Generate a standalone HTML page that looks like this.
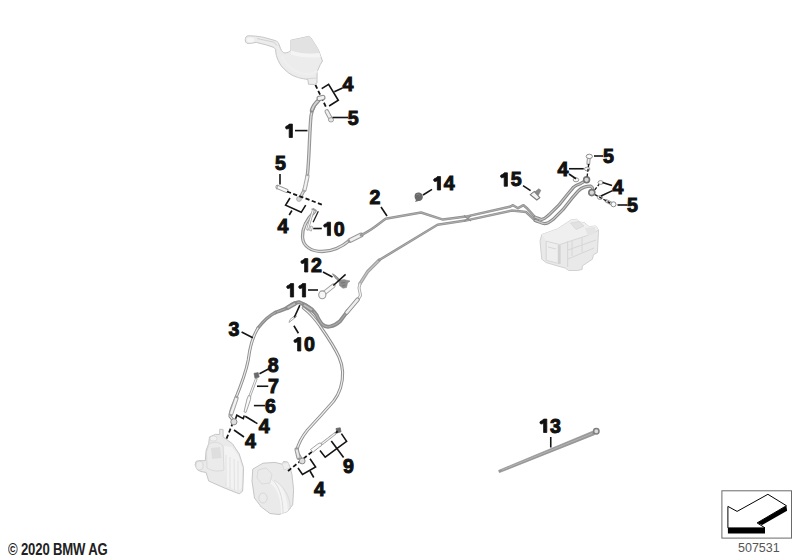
<!DOCTYPE html>
<html><head><meta charset="utf-8"><style>
html,body{margin:0;padding:0;background:#fff;width:800px;height:560px;overflow:hidden}
svg{position:absolute;left:0;top:0}
.lab text{font-family:"Liberation Sans",sans-serif;font-weight:bold;font-size:19.6px;fill:#111;stroke:#111;stroke-width:1.0px}
.lab path{fill:#111;stroke:#111;stroke-width:0.8px}
.ld polyline{fill:none;stroke:#151515;stroke-width:1.6;stroke-linejoin:miter}
.tds polyline{fill:none;stroke:#1a1a1a;stroke-width:1.35;stroke-dasharray:3 1.8}
.ds polyline{fill:none;stroke:#151515;stroke-width:1.8;stroke-dasharray:4.2 2.4}
.copy{position:absolute;left:7.6px;top:541.1px;font-family:"Liberation Sans",sans-serif;font-size:16px;font-weight:bold;color:#222;transform-origin:0 0;transform:scaleX(0.82);white-space:nowrap;letter-spacing:-0.2px}
.num{position:absolute;left:738px;top:541px;font-family:"Liberation Sans",sans-serif;font-size:12.5px;color:#555}
</style></head><body>
<svg width="800" height="560" viewBox="0 0 800 560">
<path d="M248.1,35.8 C255,35.8 262,36.9 263.75,37.4 L275,40.5 C277,41.5 278.1,42 278.6,43.5 L280.6,48.6 C281.5,51 283,53 285,53 C287.5,53 289.5,51.5 290.9,50.4 L290.9,40.2 L308.6,36.4 L310.7,37.5 L318.2,49.3 L322.5,61 L320.4,64.3 L317.1,71.8 L317,83 L314.5,84.5 L308.5,84.3 L307.8,79.5 C302,78.5 299,78 296.8,77.1 C292,75.5 289,73.5 286,70.7 C283,68 281,66 279.6,63.2 C277.5,59.5 276.5,56.5 275.9,53 L275.6,49.25 L273.75,47.4 L266.25,44.9 L256.25,42.4 C253,43 250,43.6 248.1,43.5 C245.8,43.3 245.3,41.5 245.3,39.7 C245.3,37.5 246.3,35.9 248.1,35.8 Z" fill="#ececec" stroke="#c6c6c6" stroke-width="1"/>
<path d="M290.9,40.2 L308.6,36.4 L310.7,37.5 L318.2,49.3 L319.5,53 C310,54.5 300,53.5 290.9,50.4 Z" fill="#e2e2e2"/>
<path d="M290.9,50.4 C300,53.5 310,54.5 319.5,53 L320.8,57 C310,58.5 299,57 290.9,54.5 Z" fill="#f4f4f4"/>
<path d="M282,56 C285,64 292,70 300,73 C307,75 313,74 317.5,71" fill="none" stroke="#efefef" stroke-width="2.2"/>
<path d="M306.4,78.75 L316.8,78" fill="none" stroke="#d0d0d0" stroke-width="0.8"/>
<ellipse cx="250.6" cy="39.9" rx="3.6" ry="2.4" fill="#f6f6f6"/>
<path d="M257,38.5 L274,42.2 L277,45.5" fill="none" stroke="#d2d2d2" stroke-width="1"/><path d="M541.75,234.5 L557.5,228.9 L571,219.9 L576.6,219.3 L580,222.1 L584.5,222.7 L589,226.6 L595.7,226 L598.6,230 L597.4,252.5 L593.5,254.7 L592.4,259.2 L582.2,266 L582.2,269.4 L577.7,270.5 L568.7,270.5 L565.4,268.2 L554,264.9 L546.2,262.6 L541.75,259.2 L540,241.2 Z" fill="#e9e9e9" stroke="#cdcdcd" stroke-width="0.9"/>
<path d="M541.75,234.5 L557.5,228.9 L571,219.9 L576.6,219.3 L580,222.1 L584.5,222.7 L589,226.6 L595.7,226 L598.6,230 L586,236 L572,240.5 L559.7,244.6 L546.2,241.2 Z" fill="#efefef"/>
<path d="M546.2,241.2 L559.7,244.6 L559.7,263.7 L546.2,260.4 Z" fill="#eeeeee" stroke="#d0d0d0" stroke-width="0.8"/>
<path d="M557.8,245 L560.6,245.4 L560.6,264 L557.8,263.4 Z" fill="#d2d2d2"/>
<path d="M567.6,241 L567.6,267 M559.7,244.6 L572,240.5 L586,236 L598,230.5 M572,241 L572,256 M582,238 L582,252 M568,259 L594,248 M568,250 L596,240 M548,247 L556,249" fill="none" stroke="#d4d4d4" stroke-width="0.9"/>
<path d="M570.5,223 L579,221.5 L584,226 L576,229.5 Z" fill="#e2e2e2" stroke="#d2d2d2" stroke-width="0.6"/>
<path d="M585,228 L595,227 L596,233 L588,236 Z" fill="#e4e4e4"/><path d="M209.5,436.9 L215.5,434.3 L219.7,434.5 L219.7,429.2 L223.1,429.5 L223.1,436.9 L232.4,443.7 L239.2,453.9 L243.5,467.4 L243.2,480 L242.6,491.2 L239.2,493.8 L224,487.8 L208.7,481 L206.1,472.5 L201,471.5 L197.6,470 L195.1,464.9 L196,461.5 L198.5,460.7 L205.3,460.7 L206.1,450.5 L208.7,443.7 Z" fill="#eaeaea" stroke="#c6c6c6" stroke-width="1"/>
<path d="M224,446 L232,447 L238.5,456 L242,468 L241.5,488 L238.5,491 L226,486 L224.5,470 Z" fill="#f3f3f3"/>
<path d="M226,455 L226,486 M230,457 L230,488 M234,459 L234.5,490 M238,461 L238,491" stroke="#dadada" stroke-width="0.7" fill="none"/>
<path d="M209,444 C214,441 220,442 223,446 L224,470 C218,472 212,471 207,468 L206.5,452 Z" fill="#ebebeb" stroke="#d3d3d3" stroke-width="0.7"/>
<path d="M211,448 L220,447 L221.5,458 L212,459 Z" fill="#dedede"/>
<ellipse cx="213.5" cy="438.5" rx="3.6" ry="2.6" fill="#f1f1f1" stroke="#d4d4d4" stroke-width="0.7"/>
<ellipse cx="199.5" cy="465.6" rx="3.6" ry="4.4" fill="#ededed" stroke="#d0d0d0" stroke-width="0.8"/>
<path d="M252.8,469.1 L263,463.2 L274.9,462.4 L282.5,464.2 L283.4,461.5 L287.5,461.9 L289.6,466 L291.9,474.2 L293.6,489.5 L292.7,504.8 L287.5,511.5 L279,514.5 L270,513.5 L261.3,507 L254.5,498 L252,481 Z" fill="#eaeaea" stroke="#c6c6c6" stroke-width="1"/>
<path d="M270,478 C280,481 287,492 288,511 L281,514 C281,497 277,487 268,482 Z" fill="#f4f4f4"/>
<path d="M266,476 C277,480 283,494 283,513 M274,480 C284,486 290,496 290.5,509" fill="none" stroke="#d6d6d6" stroke-width="0.8"/>
<path d="M258,470 L266,468 L272,474 L270,483 L262,484 L257,478 Z" fill="#eaeaea" stroke="#d4d4d4" stroke-width="0.7"/>
<ellipse cx="263" cy="498" rx="4.2" ry="5" fill="#ebebeb" stroke="#d2d2d2" stroke-width="0.8"/>
<path d="M282,463 L288,462.5 L290,468 L284,470 Z" fill="#eeeeee" stroke="#d0d0d0" stroke-width="0.6"/>
<path d="M320.6,98 C315.5,102.5 312,108 311,116 C310,126 309.6,140 309,152 C308.4,165 307.6,175 306.5,182 C305,189 302,195 299,199" fill="none" stroke="#949494" stroke-width="3.4" stroke-linejoin="round" stroke-linecap="round"/><path d="M320.6,98 C315.5,102.5 312,108 311,116 C310,126 309.6,140 309,152 C308.4,165 307.6,175 306.5,182 C305,189 302,195 299,199" fill="none" stroke="#dcdcdc" stroke-width="1.3" stroke-linejoin="round" stroke-linecap="round"/><path d="M307.5,176 L304.5,190" stroke="#a8a8a8" stroke-width="4.2" stroke-linecap="round"/><path d="M307.5,176 L304.5,190" stroke="#f2f2f2" stroke-width="2.2"/><path d="M318.5,100.5 C315.5,103 313,106.5 311.8,110.5" fill="none" stroke="#8c8c8c" stroke-width="4.2" stroke-linecap="round"/><path d="M318.5,100.5 C315.5,103 313,106.5 311.8,110.5" fill="none" stroke="#d4d4d4" stroke-width="1.8"/><path d="M315,211 C307,219 302,228 302.5,237 C303,247 312,251.5 322,251.5 C334,251.5 343,246 350,240" fill="none" stroke="#8e8e8e" stroke-width="3.3" stroke-linejoin="round" stroke-linecap="round"/><path d="M315,211 C307,219 302,228 302.5,237 C303,247 312,251.5 322,251.5 C334,251.5 343,246 350,240" fill="none" stroke="#dedede" stroke-width="1.3" stroke-linejoin="round" stroke-linecap="round"/><path d="M350,240.5 L361,235" stroke="#9a9a9a" stroke-width="5" stroke-linecap="round"/><path d="M350,240.5 L361,235" stroke="#f0f0f0" stroke-width="3"/><path d="M361,235.3 C367,232 371,230 376,226 L385.6,218.75 L421,212.5 L443,219.6 L465.8,216.6 L509.7,206.8 L513,205.2 L518,208.2 L523.5,205.2 L527.6,208.8 L535,217.2" fill="none" stroke="#919191" stroke-width="2.5" stroke-linejoin="round" stroke-linecap="round"/><path d="M361,235.3 C367,232 371,230 376,226 L385.6,218.75 L421,212.5 L443,219.6 L465.8,216.6 L509.7,206.8 L513,205.2 L518,208.2 L523.5,205.2 L527.6,208.8 L535,217.2" fill="none" stroke="#b4b4b4" stroke-width="0.8" stroke-linejoin="round" stroke-linecap="round"/><path d="M379.3,260 L367.5,271.8 L360,283.6" fill="none" stroke="#a2a2a2" stroke-width="3.4" stroke-linejoin="round" stroke-linecap="round"/><path d="M379.3,260 L367.5,271.8 L360,283.6" fill="none" stroke="#c4c4c4" stroke-width="1.2" stroke-linejoin="round" stroke-linecap="round"/><path d="M360,283.6 L359,287.9 L360.5,295.4 L357.9,299.7" fill="none" stroke="#a8a8a8" stroke-width="3.0" stroke-linejoin="round" stroke-linecap="round"/><path d="M360,283.6 L359,287.9 L360.5,295.4 L357.9,299.7" fill="none" stroke="#f4f4f4" stroke-width="1.3" stroke-linejoin="round" stroke-linecap="round"/><path d="M379.3,260 L437.5,224.8 L465.5,220.6 L511.5,210.6 L519.4,211.3 L526,212 L535,220.4" fill="none" stroke="#919191" stroke-width="2.5" stroke-linejoin="round" stroke-linecap="round"/><path d="M379.3,260 L437.5,224.8 L465.5,220.6 L511.5,210.6 L519.4,211.3 L526,212 L535,220.4" fill="none" stroke="#b4b4b4" stroke-width="0.8" stroke-linejoin="round" stroke-linecap="round"/><path d="M535,217.2 C538,218 540,219.5 542,219.3 C545,219 547,216.5 549,214.8 L558.6,205.4 L567.2,194.7 L573.6,187.1 C576,185 578,184.5 580,183.9 L586.4,180.2" fill="none" stroke="#858585" stroke-width="3.2" stroke-linejoin="round" stroke-linecap="round"/><path d="M535,217.2 C538,218 540,219.5 542,219.3 C545,219 547,216.5 549,214.8 L558.6,205.4 L567.2,194.7 L573.6,187.1 C576,185 578,184.5 580,183.9 L586.4,180.2" fill="none" stroke="#c8c8c8" stroke-width="1.2" stroke-linejoin="round" stroke-linecap="round"/><path d="M535,220.4 C539,221.5 542,223.6 544.6,223.6 C548,223.6 551,221 553.2,219.3 L562.9,209.7 L571.4,198.9 L577.9,191.4 C580,189 582,187.8 584.3,187.1 C587,186.3 589,185.8 590.7,186.1 C592.5,187 593.2,189 592.3,192.5" fill="none" stroke="#858585" stroke-width="3.2" stroke-linejoin="round" stroke-linecap="round"/><path d="M535,220.4 C539,221.5 542,223.6 544.6,223.6 C548,223.6 551,221 553.2,219.3 L562.9,209.7 L571.4,198.9 L577.9,191.4 C580,189 582,187.8 584.3,187.1 C587,186.3 589,185.8 590.7,186.1 C592.5,187 593.2,189 592.3,192.5" fill="none" stroke="#c8c8c8" stroke-width="1.2" stroke-linejoin="round" stroke-linecap="round"/><path d="M348.2,310.4 L340,321.25 C337,324 334,325.75 330,326.5 C327,327.25 324,326 322,324.25 C319,320 317,316 316.75,315.25 C314,311 311,308.5 304.75,304.75 L298.75,302.1 C295,303 292.75,304 292.75,304 L287.5,307.75 C283,310 279,311 275.4,312.5" fill="none" stroke="#8a8a8a" stroke-width="3.8" stroke-linejoin="round" stroke-linecap="round"/><path d="M348.2,310.4 L340,321.25 C337,324 334,325.75 330,326.5 C327,327.25 324,326 322,324.25 C319,320 317,316 316.75,315.25 C314,311 311,308.5 304.75,304.75 L298.75,302.1 C295,303 292.75,304 292.75,304 L287.5,307.75 C283,310 279,311 275.4,312.5" fill="none" stroke="#a8a8a8" stroke-width="1.2" stroke-linejoin="round" stroke-linecap="round"/><path d="M275.4,312.5 C268,316 263.6,321 258,328" fill="none" stroke="#8e8e8e" stroke-width="3.4" stroke-linejoin="round" stroke-linecap="round"/><path d="M275.4,312.5 C268,316 263.6,321 258,328" fill="none" stroke="#b0b0b0" stroke-width="1" stroke-linejoin="round" stroke-linecap="round"/><path d="M258,328 C253,336 250,345 248.25,360 C246,372 240,388 234.5,401.25 C232,407 230,412 230,416.25 L233.9,421.25" fill="none" stroke="#8e8e8e" stroke-width="3.1" stroke-linejoin="round" stroke-linecap="round"/><path d="M258,328 C253,336 250,345 248.25,360 C246,372 240,388 234.5,401.25 C232,407 230,412 230,416.25 L233.9,421.25" fill="none" stroke="#eeeeee" stroke-width="1.2" stroke-linejoin="round" stroke-linecap="round"/><path d="M236.5,398 L231,414" stroke="#a0a0a0" stroke-width="4.4" stroke-linecap="round"/><path d="M236.5,398 L231,414" stroke="#f2f2f2" stroke-width="2.4"/><path d="M303.25,307.75 C310,313 316,320 320,326 C327,336 334,346 339,357 C343,366 343.5,378 340.5,388 C338.5,394 336.5,397.5 333.75,401 C325,411 315,422 307.5,430 C301,438 298,445 296.5,451 L302,460.6" fill="none" stroke="#8e8e8e" stroke-width="3.1" stroke-linejoin="round" stroke-linecap="round"/><path d="M303.25,307.75 C310,313 316,320 320,326 C327,336 334,346 339,357 C343,366 343.5,378 340.5,388 C338.5,394 336.5,397.5 333.75,401 C325,411 315,422 307.5,430 C301,438 298,445 296.5,451 L302,460.6" fill="none" stroke="#eeeeee" stroke-width="1.2" stroke-linejoin="round" stroke-linecap="round"/><path d="M296.6,449.5 L298.6,457.8" stroke="#9a9a9a" stroke-width="4.4" stroke-linecap="round"/><path d="M296.6,449.5 L298.6,457.8" stroke="#e8e8e8" stroke-width="2.2"/><path d="M287.5,307.75 L295,303.5" stroke="#8c8c8c" stroke-width="4.6" stroke-linecap="round"/><path d="M287.5,307.75 L295,303.5" stroke="#bcbcbc" stroke-width="2"/><path d="M304,305 L312,310" stroke="#8c8c8c" stroke-width="4.6" stroke-linecap="round"/><path d="M304,305 L312,310" stroke="#bcbcbc" stroke-width="2"/><path d="M357.6,299.6 L346.6,312.6" stroke="#8e8e8e" stroke-width="4.4" stroke-linecap="round"/><path d="M357.6,299.6 L346.6,312.6" stroke="#eeeeee" stroke-width="2.4" stroke-linecap="round"/>

<path d="M464,215.5 L471,221 M464,221.5 L471,215.8" stroke="#8e8e8e" stroke-width="1.2"/>
<path d="M326.8,111.5 L330.5,118.5" stroke="#9a9a9a" stroke-width="4.6" stroke-linecap="round"/>
<path d="M326.8,111.5 L330.5,118.5" stroke="#f0f0f0" stroke-width="2.6" stroke-linecap="round"/>
<ellipse cx="331" cy="119.8" rx="2.6" ry="2.2" fill="#e4e4e4" stroke="#9a9a9a" stroke-width="0.9"/>
<path d="M277.5,187 L286.5,190.8" stroke="#9c9c9c" stroke-width="4.2" stroke-linecap="round"/>
<path d="M277.5,187 L286.5,190.8" stroke="#fafafa" stroke-width="2.4" stroke-linecap="round"/>
<path d="M277.6,184.8 L276.8,189.4" stroke="#9c9c9c" stroke-width="1"/>
<circle cx="299" cy="199" r="2.4" fill="#d6d6d6" stroke="#a0a0a0" stroke-width="0.8"/>
<path d="M313.4,209.3 L307.6,229.3" stroke="#a0a0a0" stroke-width="2.6" stroke-linecap="round"/><path d="M313.4,209.3 L307.6,229.3" stroke="#fafafa" stroke-width="1.1"/>
<path d="M311.4,209 L316.6,210.6" stroke="#9a9a9a" stroke-width="1.2"/>
<path d="M318.3,211.3 L313.1,222.3" stroke="#222" stroke-width="1.3"/>
<path d="M310.6,226 L312.6,226.6 L311.4,231 L309.6,230.5 Z" fill="#fafafa" stroke="#a0a0a0" stroke-width="0.8"/>
<path d="M414.6,196.2 C414.5,193.2 417,192.2 419.3,192.6 C422,193 423.2,195.3 422.8,197.5 C422.5,200 420.5,201.3 418.5,201 L415,202 L416,200 C415,199 414.7,197.8 414.6,196.2 Z" fill="#6a6a6a"/><path d="M416,195 L418,194 L420,195.5" fill="none" stroke="#8a8a8a" stroke-width="0.8"/>
<path d="M530.3,194.7 L534.3,191.4 L539.8,197.6 L536.8,200 Z" fill="#f4f4f4" stroke="#7a7a7a" stroke-width="1.1"/><path d="M534.8,192 L538.8,188.8 L540.8,190.3 L538.3,195.3 Z" fill="#8a8a8a" stroke="#777" stroke-width="0.6"/>
<path d="M588.8,158.5 L588.3,163.5" stroke="#9a9a9a" stroke-width="3.8" stroke-linecap="round"/><path d="M588.8,158.5 L588.3,163.5" stroke="#eee" stroke-width="1.8"/>
<ellipse cx="589.3" cy="156.4" rx="3.1" ry="2.2" fill="#fafafa" stroke="#8e8e8e" stroke-width="1"/>
<ellipse cx="587.2" cy="169" rx="2.7" ry="1.9" fill="#fafafa" stroke="#8e8e8e" stroke-width="0.9"/>
<ellipse cx="576" cy="179.8" rx="2.8" ry="2" fill="#fafafa" stroke="#8e8e8e" stroke-width="0.9"/>
<circle cx="586.6" cy="179.8" r="2.9" fill="#d8d8d8" stroke="#767676" stroke-width="1.6"/>
<ellipse cx="600.6" cy="182.5" rx="2.6" ry="1.9" fill="#fafafa" stroke="#8e8e8e" stroke-width="0.9"/>
<ellipse cx="600" cy="197.5" rx="2.6" ry="1.9" fill="#fafafa" stroke="#8e8e8e" stroke-width="0.9"/>
<circle cx="591.8" cy="192.6" r="3" fill="#d8d8d8" stroke="#767676" stroke-width="1.6"/>
<path d="M606.5,201 L612,203.8" stroke="#999" stroke-width="3.6" stroke-linecap="round"/>
<path d="M606.5,201 L612,203.8" stroke="#eee" stroke-width="1.6"/>
<circle cx="613.5" cy="204.3" r="2.5" fill="#fafafa" stroke="#8e8e8e" stroke-width="1"/>
<path d="M332.6,273.8 C335,275 338,277.5 340.5,280.5 L339,281.5 C336,279 334,276.5 332.6,273.8 Z" fill="#9a9a9a" stroke="#8a8a8a" stroke-width="1"/>
<path d="M339,280.5 L344,279.6 L346.5,280.2 L350,281 L347.5,283 L346.5,287.5 L343,288.2 L339.5,285.5 Z" fill="#8e8e8e" stroke="#888" stroke-width="0.6"/><path d="M341,283 L345,282.5 M342,286 L345.5,285" stroke="#6e6e6e" stroke-width="0.8"/>
<path d="M322.5,294.4 L333.3,285.8" stroke="#a0a0a0" stroke-width="4.6" stroke-linecap="round"/>
<path d="M322.5,294.4 L333.3,285.8" stroke="#f6f6f6" stroke-width="2.8" stroke-linecap="round"/>
<ellipse cx="322.3" cy="294.8" rx="3.6" ry="3.9" fill="#f6f6f6" stroke="#9a9a9a" stroke-width="1.1"/>
<path d="M289,322.5 L290,319.5 L295.5,315 L296.5,316.5 Z" fill="#fafafa" stroke="#a0a0a0" stroke-width="0.9"/>
<path d="M254,373.3 L258.2,372.6 L259.2,377 L255,378.4 Z" fill="#6a6a6a" stroke="#666" stroke-width="0.6"/>
<path d="M336,428.5 L340.2,427.8 L341,431.8 L337,433 Z" fill="#6a6a6a" stroke="#666" stroke-width="0.8"/>
<polygon points="499.45,472.61 594.75,434.65 593.25,430.95 498.55,470.39" fill="#9a9a9a" stroke="#888" stroke-width="0.6"/>
<path d="M502,470 L592,433.6" stroke="#bdbdbd" stroke-width="0.7"/>
<circle cx="596.3" cy="431.3" r="2.7" fill="#dcdcdc" stroke="#7e7e7e" stroke-width="1.5"/>

<g class="tds"><polyline points="588.75,164.00 587.00,177.50"/><polyline points="594.80,189.80 599.00,184.40"/><polyline points="595.00,194.60 611.00,203.50"/></g>
<g class="ds"><polyline points="315.40,84.90 326.00,107.00"/><polyline points="287.00,191.50 323.60,205.20"/><polyline points="233.00,422.50 226.00,440.00"/><polyline points="288.00,471.00 338.70,430.50"/></g>

<rect x="317" y="95.8" width="8" height="4.4" rx="2.2" transform="rotate(-15 321 98)" fill="#f2f2f2" stroke="#8c8c8c" stroke-width="1.1"/>
<path d="M256.2,379 L249.8,396" stroke="#a0a0a0" stroke-width="2.6" stroke-linecap="round"/>
<path d="M256.2,379 L249.8,396" stroke="#f6f6f6" stroke-width="1.1"/>
<path d="M248.5,395.5 L250.8,396.3 L250.5,399.5 L246,412.5 L244,411.8 L247,399 Z" fill="#fafafa" stroke="#9a9a9a" stroke-width="0.9"/>
<circle cx="233.9" cy="421.8" r="3.1" fill="#dedede" stroke="#8c8c8c" stroke-width="1"/>
<circle cx="302.2" cy="461" r="2.9" fill="#dedede" stroke="#8c8c8c" stroke-width="1"/>
<path d="M310.4,449.6 L317.9,443.9 L320,442.9 L321.8,443.9 L321.4,445.7 L319.3,447.1 L313.2,452.1 Z" fill="#fafafa" stroke="#9c9c9c" stroke-width="0.9"/>
<path d="M322.1,443.6 L335,433.6" stroke="#a8a8a8" stroke-width="2.6" stroke-linecap="round"/>
<path d="M322.1,443.6 L335,433.6" stroke="#fafafa" stroke-width="1.2"/>

<g class="ld"><polyline points="321.70,88.60 328.60,84.30 338.30,100.30 329.10,106.00"/><polyline points="334.30,91.70 342.50,88.00"/><polyline points="332.50,117.50 348.00,117.50"/><polyline points="295.00,130.60 307.50,130.60"/><polyline points="280.00,174.00 280.00,184.40"/><polyline points="290.00,198.00 285.60,205.20 301.25,212.30 305.70,205.20"/><polyline points="291.90,210.50 289.20,215.00"/><polyline points="313.20,228.50 321.80,228.50"/><polyline points="381.00,207.00 387.00,216.00"/><polyline points="423.00,195.00 432.00,189.40"/><polyline points="523.00,185.60 530.60,190.60"/><polyline points="569.00,168.75 583.75,168.75"/><polyline points="569.00,174.00 576.00,178.75"/><polyline points="594.00,156.00 603.00,156.00"/><polyline points="612.00,185.60 602.50,182.50"/><polyline points="612.50,190.60 601.00,196.00"/><polyline points="617.50,205.00 627.50,205.00"/><polyline points="323.00,272.00 332.50,277.00"/><polyline points="308.00,290.00 318.00,290.00"/><polyline points="333.30,285.50 345.60,274.40"/><polyline points="241.60,332.00 252.80,337.80"/><polyline points="293.90,325.75 298.40,333.25"/><polyline points="299.90,305.10 294.25,317.50"/><polyline points="259.50,373.75 268.90,368.75"/><polyline points="257.00,386.25 268.25,386.25"/><polyline points="253.90,405.60 265.00,405.60"/><polyline points="235.60,418.80 236.80,415.20 243.30,418.60 244.30,415.60"/><polyline points="245.20,416.30 257.40,423.60"/><polyline points="234.00,430.00 244.00,437.00"/><polyline points="320.00,450.60 325.20,457.20 346.60,441.40 341.40,433.60"/><polyline points="331.30,441.00 343.60,457.60"/><polyline points="298.00,468.00 302.50,474.40 315.60,467.00 310.00,458.75"/><polyline points="310.00,471.00 313.75,477.50"/><polyline points="550.75,437.00 550.75,447.50"/></g>
<g class="lab"><text x="342.50" y="90.60">4</text>
<text x="347.75" y="125.00">5</text>
<path transform="translate(284.60,137.50)" d="M4.6,-13.4 L7.8,-13.4 L7.8,0 L4.6,0 L4.6,-9.3 C3.8,-8.8 2.9,-8.5 2.0,-8.5 C1.2,-8.6 0.9,-9.4 0.9,-10.2 C1.0,-11.1 1.7,-11.4 2.6,-11.7 C3.5,-12.1 4.2,-12.7 4.6,-13.4 Z"/>
<text x="275.00" y="170.00">5</text>
<text x="277.50" y="232.50">4</text>
<path transform="translate(322.75,235.60)" d="M4.6,-13.4 L7.8,-13.4 L7.8,0 L4.6,0 L4.6,-9.3 C3.8,-8.8 2.9,-8.5 2.0,-8.5 C1.2,-8.6 0.9,-9.4 0.9,-10.2 C1.0,-11.1 1.7,-11.4 2.6,-11.7 C3.5,-12.1 4.2,-12.7 4.6,-13.4 Z"/>
<text x="333.85" y="235.60">0</text>
<text x="369.60" y="204.40">2</text>
<path transform="translate(432.75,190.00)" d="M4.6,-13.4 L7.8,-13.4 L7.8,0 L4.6,0 L4.6,-9.3 C3.8,-8.8 2.9,-8.5 2.0,-8.5 C1.2,-8.6 0.9,-9.4 0.9,-10.2 C1.0,-11.1 1.7,-11.4 2.6,-11.7 C3.5,-12.1 4.2,-12.7 4.6,-13.4 Z"/>
<text x="443.85" y="190.00">4</text>
<path transform="translate(499.60,186.25)" d="M4.6,-13.4 L7.8,-13.4 L7.8,0 L4.6,0 L4.6,-9.3 C3.8,-8.8 2.9,-8.5 2.0,-8.5 C1.2,-8.6 0.9,-9.4 0.9,-10.2 C1.0,-11.1 1.7,-11.4 2.6,-11.7 C3.5,-12.1 4.2,-12.7 4.6,-13.4 Z"/>
<text x="510.70" y="186.25">5</text>
<text x="557.50" y="175.60">4</text>
<text x="603.00" y="163.00">5</text>
<text x="612.50" y="194.00">4</text>
<text x="627.00" y="212.00">5</text>
<path transform="translate(300.00,272.00)" d="M4.6,-13.4 L7.8,-13.4 L7.8,0 L4.6,0 L4.6,-9.3 C3.8,-8.8 2.9,-8.5 2.0,-8.5 C1.2,-8.6 0.9,-9.4 0.9,-10.2 C1.0,-11.1 1.7,-11.4 2.6,-11.7 C3.5,-12.1 4.2,-12.7 4.6,-13.4 Z"/>
<text x="311.10" y="272.00">2</text>
<path transform="translate(285.80,297.00)" d="M4.6,-13.4 L7.8,-13.4 L7.8,0 L4.6,0 L4.6,-9.3 C3.8,-8.8 2.9,-8.5 2.0,-8.5 C1.2,-8.6 0.9,-9.4 0.9,-10.2 C1.0,-11.1 1.7,-11.4 2.6,-11.7 C3.5,-12.1 4.2,-12.7 4.6,-13.4 Z"/>
<path transform="translate(297.80,297.00)" d="M4.6,-13.4 L7.8,-13.4 L7.8,0 L4.6,0 L4.6,-9.3 C3.8,-8.8 2.9,-8.5 2.0,-8.5 C1.2,-8.6 0.9,-9.4 0.9,-10.2 C1.0,-11.1 1.7,-11.4 2.6,-11.7 C3.5,-12.1 4.2,-12.7 4.6,-13.4 Z"/>
<text x="228.40" y="336.00">3</text>
<path transform="translate(293.00,351.00)" d="M4.6,-13.4 L7.8,-13.4 L7.8,0 L4.6,0 L4.6,-9.3 C3.8,-8.8 2.9,-8.5 2.0,-8.5 C1.2,-8.6 0.9,-9.4 0.9,-10.2 C1.0,-11.1 1.7,-11.4 2.6,-11.7 C3.5,-12.1 4.2,-12.7 4.6,-13.4 Z"/>
<text x="304.10" y="351.00">0</text>
<text x="267.75" y="372.00">8</text>
<text x="268.00" y="393.00">7</text>
<text x="265.00" y="413.00">6</text>
<text x="258.75" y="433.00">4</text>
<text x="245.00" y="447.50">4</text>
<text x="343.00" y="473.00">9</text>
<text x="314.00" y="495.60">4</text>
<path transform="translate(539.00,432.50)" d="M4.6,-13.4 L7.8,-13.4 L7.8,0 L4.6,0 L4.6,-9.3 C3.8,-8.8 2.9,-8.5 2.0,-8.5 C1.2,-8.6 0.9,-9.4 0.9,-10.2 C1.0,-11.1 1.7,-11.4 2.6,-11.7 C3.5,-12.1 4.2,-12.7 4.6,-13.4 Z"/>
<text x="550.10" y="432.50">3</text></g>
<rect x="721.9" y="490.8" width="69.6" height="47.3" fill="none" stroke="#6a6a6a" stroke-width="1"/>
<path d="M727.9,527.9 L765,527.9 L765,533.6 L727.9,533.6 Z" fill="#000"/>
<path d="M786.4,505.7 L787.1,510.7 L762.1,525 L757.1,522.9 Z" fill="#000"/>
<path d="M727.9,506.4 L737.1,511.4 L767.9,494.3 L786.4,505.7 L757.1,522.9 L765,527.9 L727.9,527.9 Z" fill="#fff" stroke="#000" stroke-width="1"/>
</svg>
<div class="copy">© 2020 BMW AG</div>
<div class="num">507531</div>
</body></html>
